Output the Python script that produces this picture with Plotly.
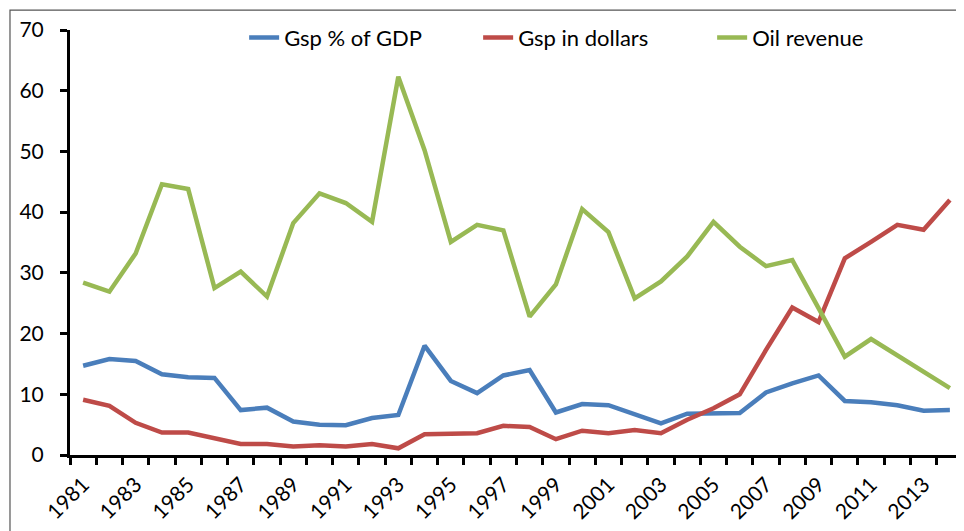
import plotly.graph_objects as go

years = list(range(1981, 2015))
gsp_pct_gdp = [14.7, 15.8, 15.5, 13.3, 12.8, 12.7, 7.4, 7.8, 5.5, 5.0, 4.9, 6.1,
               6.6, 18.0, 12.2, 10.2, 13.1, 14.0, 7.0, 8.4, 8.2, 6.7, 5.2, 6.8,
               6.9, 6.9, 10.3, 11.8, 13.1, 8.9, 8.7, 8.2, 7.3, 7.4]
gsp_dollars = [9.1, 8.1, 5.3, 3.7, 3.7, 2.7, 1.8, 1.8, 1.4, 1.6, 1.4, 1.8,
               1.1, 3.4, 3.5, 3.6, 4.8, 4.6, 2.6, 4.0, 3.6, 4.1, 3.6, 5.8,
               7.7, 10.0, 17.3, 24.3, 21.9, 32.4, 35.1, 37.9, 37.1, 42.0]
oil_revenue = [28.4, 26.9, 33.2, 44.6, 43.8, 27.5, 30.2, 26.1, 38.2, 43.1, 41.5, 38.4,
               62.3, 50.2, 35.1, 37.9, 37.0, 22.8, 28.1, 40.5, 36.7, 25.8, 28.6, 32.7,
               38.4, 34.3, 31.1, 32.1, 24.2, 16.2, 19.1, 16.4, 13.8, 11.0]
tick_years = list(range(1981, 2014, 2))
tick_labels = [str(y) for y in tick_years]
y_ticks = list(range(0, 71, 10))

series = [
    ("Gsp % of GDP", gsp_pct_gdp, "#4A7EBB"),
    ("Gsp in dollars", gsp_dollars, "#BE4B48"),
    ("Oil revenue", oil_revenue, "#98B954"),
]

fig = go.Figure()
for name, vals, color in series:
    fig.add_trace(go.Scatter(x=years, y=vals, mode="lines", name=name,
                             line=dict(color=color, width=4.5)))

font_family = "Lato, 'Open Sans', sans-serif"
fig.update_layout(
    width=956, height=523,
    margin=dict(l=62, r=1, t=22, b=76, autoexpand=False),
    paper_bgcolor="white", plot_bgcolor="white",
    font=dict(family=font_family, size=21, color="black"),
    showlegend=True,
    legend=dict(orientation="h", x=0.195, xanchor="left", y=0.982, yanchor="middle",
                font=dict(size=22), entrywidth=189, entrywidthmode="pixels",
                bgcolor="rgba(0,0,0,0)"),
    xaxis=dict(range=[1980.5, 2014.5], tickmode="array", tickvals=tick_years,
               ticktext=tick_labels, tickangle=-45, ticks="", showgrid=False,
               zeroline=False, showline=True, linecolor="black", linewidth=3,
               tickfont=dict(size=21), automargin=False, ticklabelstandoff=6,
               minor=dict(tickmode="linear", tick0=1980.5, dtick=1, ticks="outside",
                          ticklen=7, tickwidth=3, tickcolor="black", showgrid=False)),
    yaxis=dict(range=[0, 70], tickmode="array", tickvals=y_ticks, ticks="outside",
               ticklen=7, tickwidth=3, tickcolor="black", showgrid=False,
               zeroline=False, showline=True, linecolor="black", linewidth=3,
               tickfont=dict(size=21), automargin=False, ticklabelstandoff=12),
    shapes=[dict(type="rect", xref="paper", yref="paper",
                 x0=-0.0672, x1=1.02, y0=-0.3, y1=1.047,
                 line=dict(color="#555555", width=1.2), layer="below")],
)

fig.write_html("out.html")
